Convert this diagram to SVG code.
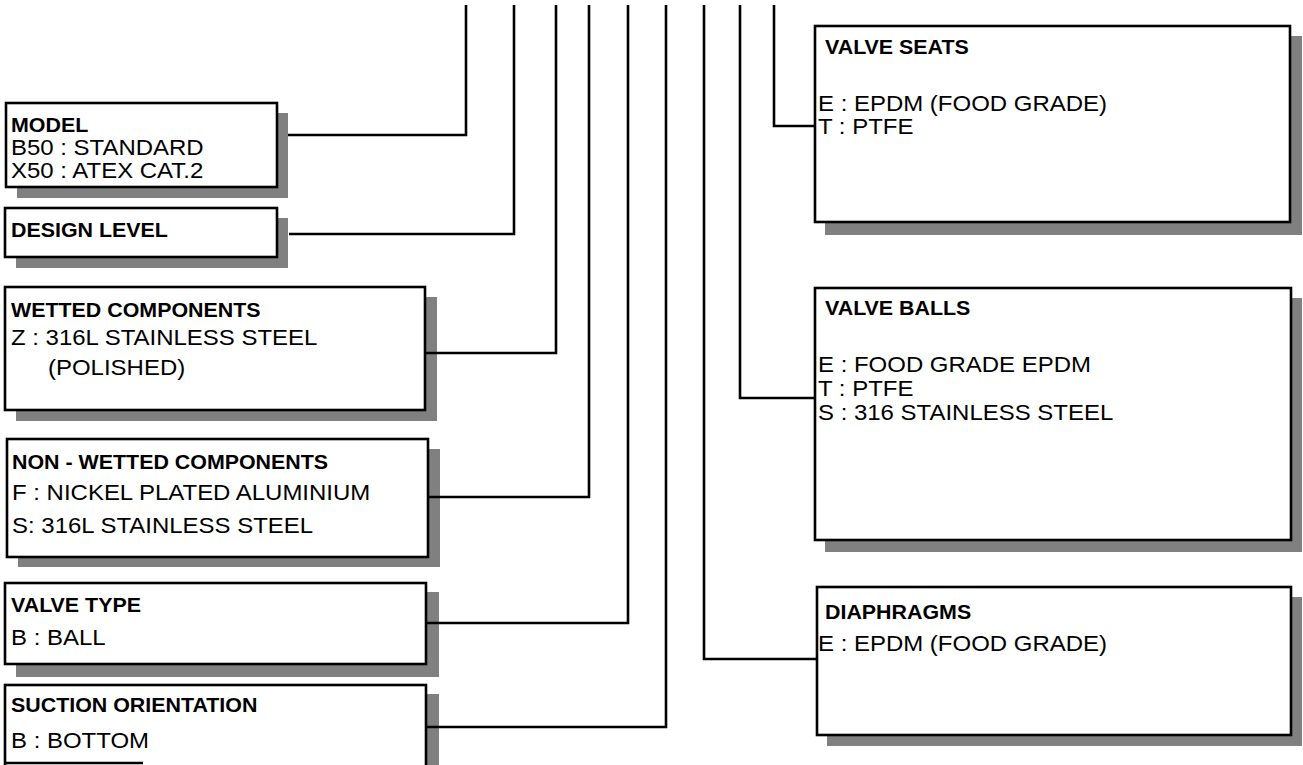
<svg xmlns="http://www.w3.org/2000/svg" width="1303" height="765" viewBox="0 0 1303 765">
<style>
.sh{fill:#808080;stroke:none}
.bx{fill:#fff;stroke:#000;stroke-width:2.6}
.h{font-family:"Liberation Sans",Arial,sans-serif;font-size:20px;font-weight:bold;fill:#000}
.t{font-family:"Liberation Sans",Arial,sans-serif;font-size:22px;fill:#000}
.c{fill:none;stroke:#000;stroke-width:2.6}
</style>
<rect width="1303" height="765" fill="#fff"/>
<g id="model">
<rect class="sh" x="17" y="113" width="271" height="85"/>
<rect class="bx" x="6" y="103" width="271" height="84"/>
<text class="h" transform="translate(11 132) scale(1.07 1)">MODEL</text>
<text class="t" transform="translate(11 155) scale(1.09 1)">B50 : STANDARD</text>
<text class="t" transform="translate(11 178) scale(1.09 1)">X50 : ATEX CAT.2</text>
</g>
<g id="design-level">
<rect class="sh" x="16" y="218" width="272" height="50"/>
<rect class="bx" x="5" y="208" width="272" height="49"/>
<text class="h" transform="translate(11 237) scale(1.07 1)">DESIGN LEVEL</text>
</g>
<g id="wetted">
<rect class="sh" x="16" y="297" width="421" height="124"/>
<rect class="bx" x="5" y="287" width="420" height="123"/>
<text class="h" transform="translate(11 317) scale(1.07 1)">WETTED COMPONENTS</text>
<text class="t" transform="translate(11 345) scale(1.09 1)">Z : 316L STAINLESS STEEL</text>
<text class="t" transform="translate(48 375) scale(1.09 1)">(POLISHED)</text>
</g>
<g id="non-wetted">
<rect class="sh" x="18" y="449" width="422" height="118"/>
<rect class="bx" x="7" y="439" width="421" height="118"/>
<text class="h" transform="translate(12 469) scale(1.07 1)">NON - WETTED COMPONENTS</text>
<text class="t" transform="translate(12 500) scale(1.09 1)">F : NICKEL PLATED ALUMINIUM</text>
<text class="t" transform="translate(12 533) scale(1.09 1)">S: 316L STAINLESS STEEL</text>
</g>
<g id="valve-type">
<rect class="sh" x="16" y="592" width="423" height="85"/>
<rect class="bx" x="5" y="583" width="421" height="81"/>
<text class="h" transform="translate(11 612) scale(1.07 1)">VALVE TYPE</text>
<text class="t" transform="translate(11 645) scale(1.09 1)">B : BALL</text>
</g>
<g id="suction">
<rect class="sh" x="16" y="694" width="423" height="100"/>
<rect class="bx" x="5" y="685" width="421" height="100"/>
<text class="h" transform="translate(11 712) scale(1.07 1)">SUCTION ORIENTATION</text>
<text class="t" transform="translate(11 748) scale(1.09 1)">B : BOTTOM</text>
<line x1="5" y1="763" x2="143" y2="763" stroke="#000" stroke-width="2.6"/>
</g>
<g id="valve-seats">
<rect class="sh" x="825" y="36" width="477" height="199"/>
<rect class="bx" x="815" y="26" width="475" height="196"/>
<text class="h" transform="translate(825 54) scale(1.07 1)">VALVE SEATS</text>
<text class="t" transform="translate(818 111) scale(1.09 1)">E : EPDM (FOOD GRADE)</text>
<text class="t" transform="translate(818 134) scale(1.09 1)">T : PTFE</text>
</g>
<g id="valve-balls">
<rect class="sh" x="825" y="298" width="477" height="254"/>
<rect class="bx" x="815" y="288" width="476" height="252"/>
<text class="h" transform="translate(825 315) scale(1.07 1)">VALVE BALLS</text>
<text class="t" transform="translate(818 372) scale(1.09 1)">E : FOOD GRADE EPDM</text>
<text class="t" transform="translate(818 396) scale(1.09 1)">T : PTFE</text>
<text class="t" transform="translate(818 420) scale(1.09 1)">S : 316 STAINLESS STEEL</text>
</g>
<g id="diaphragms">
<rect class="sh" x="827" y="597" width="475" height="149"/>
<rect class="bx" x="817" y="587" width="474" height="148"/>
<text class="h" transform="translate(825 619) scale(1.07 1)">DIAPHRAGMS</text>
<text class="t" transform="translate(818 651) scale(1.09 1)">E : EPDM (FOOD GRADE)</text>
</g>
<g id="connectors">
<path class="c" d="M466 5 V135 H288"/>
<path class="c" d="M514 5 V234 H289"/>
<path class="c" d="M556 5 V353 H425"/>
<path class="c" d="M589 5 V497 H428"/>
<path class="c" d="M628 5 V623 H426"/>
<path class="c" d="M666 5 V727 H426"/>
<path class="c" d="M704 5 V659 H817"/>
<path class="c" d="M740 5 V398 H815"/>
<path class="c" d="M774 5 V126 H815"/>
</g>
</svg>
